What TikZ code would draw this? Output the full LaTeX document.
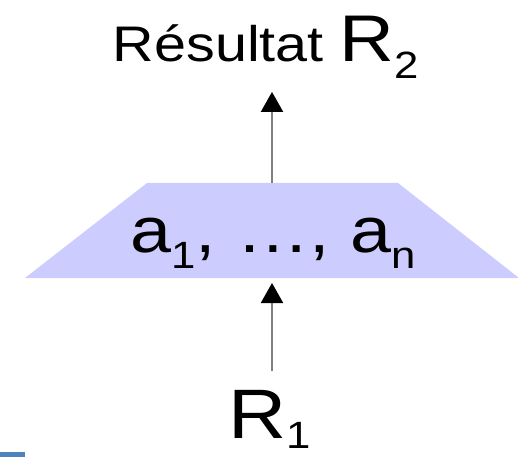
\documentclass[tikz,border=0pt]{standalone}
\usepackage{fontspec}
\setmainfont{Liberation Sans}[FakeStretch=1.15]
\usepackage{xcolor}
\usetikzlibrary{arrows.meta, positioning}

\definecolor{trapfill}{RGB}{204,204,255}
\definecolor{flowgray}{RGB}{128,128,128}
\definecolor{barblue}{RGB}{79,129,189}

\newcommand{\idx}[2][0.25em]{\raisebox{-#1}{\fontsize{19}{19}\selectfont #2}}

\tikzset{
  flow/.style={draw=flowgray, line width=1pt, -{Triangle[width=11pt,length=10pt,color=black]}},
  txt/.style={inner sep=0pt, anchor=base},
}

\begin{document}
\begin{tikzpicture}[x=0.5pt, y=-0.5pt]
        \useasboundingbox (0,0) rectangle (518,464);

        % operator box
        \fill[trapfill] (147,183) -- (398,183) -- (519,278) -- (25,278) -- cycle;
        \coordinate (trapN) at (272,183);
        \coordinate (trapS) at (272,278);

        \node[txt, font=\fontsize{32}{32}\selectfont] (attrs) at (273,253) {a\idx{1}, …, a\idx{n}};
        \node[txt, font=\fontsize{25}{25}\selectfont] (res) at (266,62) {Résultat {\fontsize{33}{33}\selectfont R\idx{2}}};
        \node[txt, font=\fontsize{35}{35}\selectfont] (r1) at (270,438) {R\idx[0.15em]{1}};

        \draw[flow, shorten >=6.5pt] (trapN) -- (trapN |- res.south);
        \draw[flow, shorten <=9pt, shorten >=2.5pt] (trapS |- r1.north) -- (trapS);

        \fill[barblue] (0,452) rectangle (25,457);

\end{tikzpicture}
\end{document}
